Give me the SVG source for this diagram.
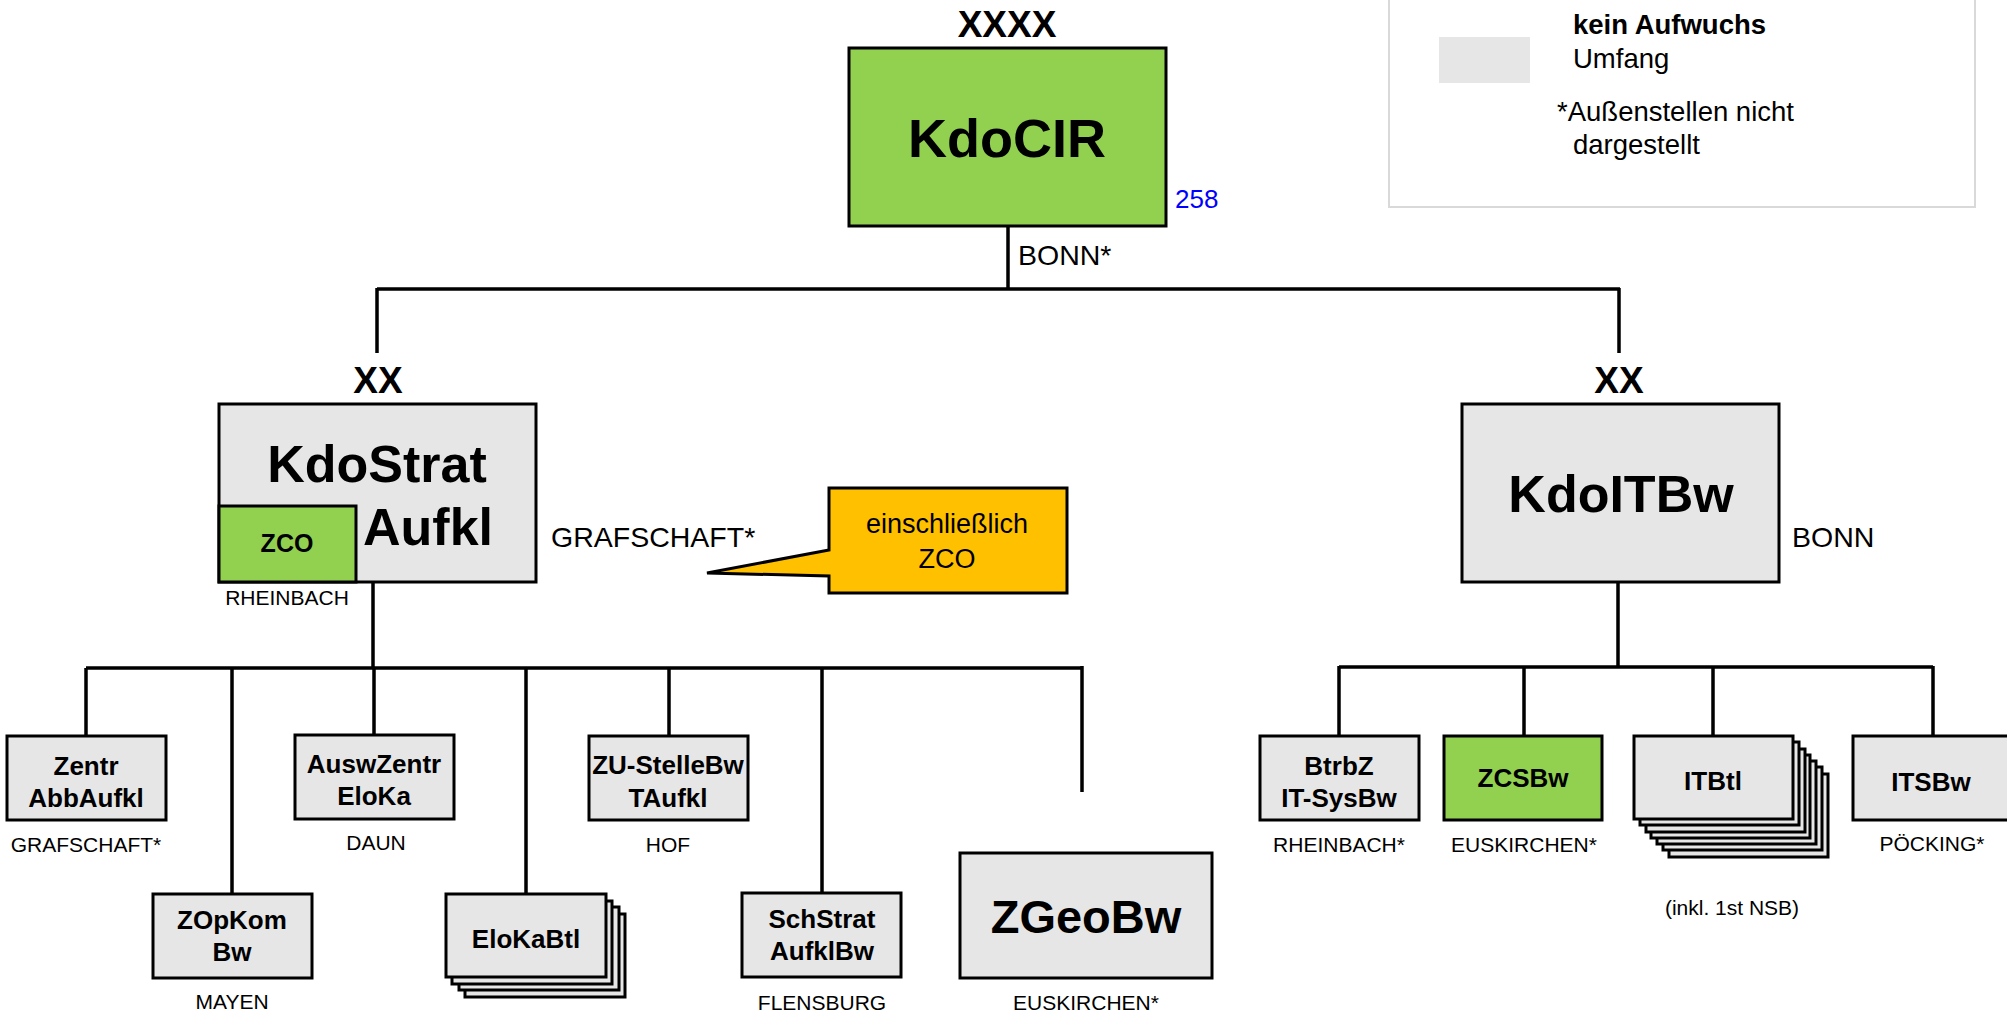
<svg xmlns="http://www.w3.org/2000/svg" width="2007" height="1016" viewBox="0 0 2007 1016">
<style>
text{font-family:"Liberation Sans",Arial,sans-serif;fill:#000}
.b{font-weight:bold}
.box{fill:#e6e6e6;stroke:#000;stroke-width:3}
.grn{fill:#92d050;stroke:#000;stroke-width:3}
.ln{stroke:#000;stroke-width:3.5;fill:none}
.n{font-size:26px;font-weight:bold;text-anchor:middle}
.loc{font-size:21px;text-anchor:middle}
.lab{font-size:28.5px}
.lg{font-size:27.5px}
.ech{font-size:37px;font-weight:bold;text-anchor:middle}
</style>
<defs>
<rect id="sm" width="159" height="84" class="box"/>
</defs>

<g id="legend">
<rect x="1389" y="-5" width="586" height="212" fill="#fff" stroke="#d9d9d9" stroke-width="2"/>
<rect x="1439" y="37" width="91" height="46" fill="#e6e6e6"/>
<text x="1573" y="34" class="lg b">kein Aufwuchs</text>
<text x="1573" y="68" class="lg">Umfang</text>
<text x="1557" y="121" class="lg">*Außenstellen nicht</text>
<text x="1573" y="154" class="lg">dargestellt</text>
</g>

<g id="connectors">
<path class="ln" d="M1008 226V289M377 289H1620M377 288V353M1619 288V353"/>
<path class="ln" d="M373 582V668M86 668H1082M86 668V736M232 668V894M374 668V735M526 668V894M669 668V736M822 668V893M1082 666V792"/>
<path class="ln" d="M1618 582V667M1339 667H1933M1339 666V736M1524 667V736M1713 667V736M1933 666V736"/>
</g>

<g id="kdocir">
<text x="1007" y="37" class="ech">XXXX</text>
<rect x="849" y="48" width="317" height="178" class="grn"/>
<text x="1007" y="157" font-size="54" class="b" text-anchor="middle">KdoCIR</text>
<text x="1175" y="208" font-size="26" style="fill:#0000ff">258</text>
<text x="1018" y="265" class="lab">BONN*</text>
</g>

<g id="kdostrat">
<text x="378" y="393" class="ech">XX</text>
<rect x="219" y="404" width="317" height="178" class="box"/>
<text x="377" y="482" font-size="52" class="b" text-anchor="middle">KdoStrat</text>
<text x="363" y="545" font-size="52" class="b">Aufkl</text>
<text x="551" y="547" class="lab">GRAFSCHAFT*</text>
</g>

<g id="zco">
<rect x="219" y="506" width="137" height="76" class="grn"/>
<text x="287" y="552" font-size="25" class="b" text-anchor="middle">ZCO</text>
<text x="287" y="605" class="loc">RHEINBACH</text>
</g>

<g id="callout">
<path d="M829 488H1067V593H829V576L707 573L829 550Z" fill="#ffc000" stroke="#000" stroke-width="3"/>
<text x="947" y="533" font-size="27" text-anchor="middle">einschließlich</text>
<text x="947" y="568" font-size="27" text-anchor="middle">ZCO</text>
</g>

<g id="kdoitbw">
<text x="1619" y="393" class="ech">XX</text>
<rect x="1462" y="404" width="317" height="178" class="box"/>
<text x="1621" y="512" font-size="52" class="b" text-anchor="middle">KdoITBw</text>
<text x="1792" y="547" class="lab">BONN</text>
</g>

<g id="zentr">
<use href="#sm" x="7" y="736"/>
<text x="86" y="775" class="n">Zentr</text>
<text x="86" y="807" class="n">AbbAufkl</text>
<text x="86" y="852" class="loc">GRAFSCHAFT*</text>
</g>

<g id="zopkom">
<use href="#sm" x="153" y="894"/>
<text x="232" y="929" class="n">ZOpKom</text>
<text x="232" y="961" class="n">Bw</text>
<text x="232" y="1009" class="loc">MAYEN</text>
</g>

<g id="auswzentr">
<use href="#sm" x="295" y="735"/>
<text x="374" y="773" class="n">AuswZentr</text>
<text x="374" y="805" class="n">EloKa</text>
<text x="376" y="850" class="loc">DAUN</text>
</g>

<g id="elokabtl">
<rect x="465" y="914" width="160" height="83" class="box" stroke-width="2.5"/>
<rect x="459" y="907" width="160" height="83" class="box" stroke-width="2.5"/>
<rect x="452" y="901" width="160" height="83" class="box" stroke-width="2.5"/>
<rect x="446" y="894" width="160" height="83" class="box"/>
<text x="526" y="948" class="n">EloKaBtl</text>
</g>

<g id="zustelle">
<use href="#sm" x="589" y="736"/>
<text x="668" y="774" class="n">ZU-StelleBw</text>
<text x="668" y="807" class="n">TAufkl</text>
<text x="668" y="852" class="loc">HOF</text>
</g>

<g id="schstrat">
<use href="#sm" x="742" y="893"/>
<text x="822" y="928" class="n">SchStrat</text>
<text x="822" y="960" class="n">AufklBw</text>
<text x="822" y="1010" class="loc">FLENSBURG</text>
</g>

<g id="zgeobw">
<rect x="960" y="853" width="252" height="125" class="box"/>
<text x="1086" y="933" font-size="47" class="b" text-anchor="middle">ZGeoBw</text>
<text x="1086" y="1010" class="loc">EUSKIRCHEN*</text>
</g>

<g id="btrbz">
<use href="#sm" x="1260" y="736"/>
<text x="1339" y="775" class="n">BtrbZ</text>
<text x="1339" y="807" class="n">IT-SysBw</text>
<text x="1339" y="852" class="loc">RHEINBACH*</text>
</g>

<g id="zcsbw">
<rect x="1444" y="736" width="158" height="84" class="grn"/>
<text x="1523" y="787" class="n">ZCSBw</text>
<text x="1524" y="852" class="loc">EUSKIRCHEN*</text>
</g>

<g id="itbtl">
<rect x="1669" y="774" width="159" height="83" class="box" stroke-width="2.5"/>
<rect x="1663" y="767" width="159" height="83" class="box" stroke-width="2.5"/>
<rect x="1657" y="761" width="159" height="83" class="box" stroke-width="2.5"/>
<rect x="1651" y="755" width="159" height="83" class="box" stroke-width="2.5"/>
<rect x="1646" y="749" width="159" height="83" class="box" stroke-width="2.5"/>
<rect x="1640" y="742" width="159" height="83" class="box" stroke-width="2.5"/>
<rect x="1634" y="736" width="159" height="83" class="box"/>
<text x="1713" y="790" class="n">ITBtl</text>
<text x="1732" y="915" class="loc">(inkl. 1st NSB)</text>
</g>

<g id="itsbw">
<rect x="1853" y="736" width="170" height="84" class="box"/>
<text x="1931" y="791" class="n">ITSBw</text>
<text x="1932" y="851" class="loc">PÖCKING*</text>
</g>
</svg>
